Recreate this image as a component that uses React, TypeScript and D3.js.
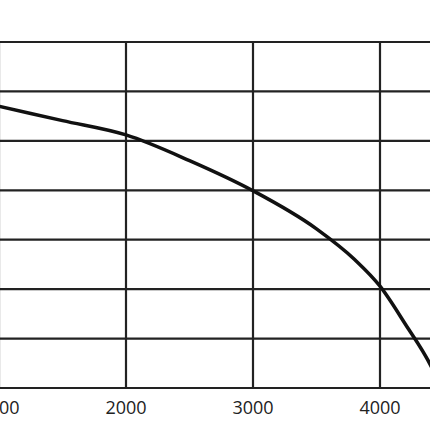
import React, { useEffect, useRef } from 'react';
import * as d3 from 'd3';

// flow (x) against pressure (y)
const flow = [1000, 1500, 2000, 2500, 3000, 3500, 3800, 4000, 4200, 4400, 4480];
const pressure = [570, 541, 512, 460, 399, 322, 260, 206, 129, 45, 0];
const xGrid = [1000, 2000, 3000, 4000, 5000];
const xLabels = [1000, 2000, 3000, 4000];
const yTicks = [0, 100, 200, 300, 400, 500, 600, 700];

export default function App() {
  const svgRef = useRef<SVGSVGElement>(null);

  useEffect(() => {
    if (!svgRef.current) return;
    const svg = d3.select(svgRef.current);
    svg.selectAll('*').remove();

    const width = 430;
    const height = 430;

    const x = d3.scaleLinear().domain([1000, 5000]).range([-1, 507]);
    const y = d3.scaleLinear().domain([0, 700]).range([388, 42]);

    svg.append('rect').attr('width', width).attr('height', height).attr('fill', '#fff');

    // horizontal grid
    svg.append('g')
      .selectAll('line')
      .data(yTicks)
      .join('line')
      .attr('x1', 0)
      .attr('x2', width)
      .attr('y1', d => y(d))
      .attr('y2', d => y(d))
      .attr('stroke', '#222')
      .attr('stroke-width', 2.2);

    // vertical grid
    svg.append('g')
      .selectAll('line')
      .data(xGrid)
      .join('line')
      .attr('x1', d => x(d))
      .attr('x2', d => x(d))
      .attr('y1', y(700))
      .attr('y2', y(0))
      .attr('stroke', '#222')
      .attr('stroke-width', 2.2);

    // tick labels
    svg.append('g')
      .selectAll('text')
      .data(xLabels)
      .join('text')
      .attr('x', d => x(d))
      .attr('y', 414)
      .attr('text-anchor', 'middle')
      .attr('font-family', '"Open Sans", sans-serif')
      .attr('font-size', 18)
      .attr('fill', '#222')
      .text(d => String(d));

    const pts = flow.map((f, i) => [f, pressure[i]] as [number, number]);
    const line = d3.line<[number, number]>()
      .x(d => x(d[0]))
      .y(d => y(d[1]))
      .curve(d3.curveMonotoneX);

    svg.append('path')
      .datum(pts)
      .attr('fill', 'none')
      .attr('stroke', '#111')
      .attr('stroke-width', 3.5)
      .attr('stroke-linecap', 'round')
      .attr('d', line);
  }, []);

  return (
    <svg
      ref={svgRef}
      width={430}
      height={430}
      style={{ position: 'fixed', left: 0, top: 0, display: 'block' }}
    />
  );
}
